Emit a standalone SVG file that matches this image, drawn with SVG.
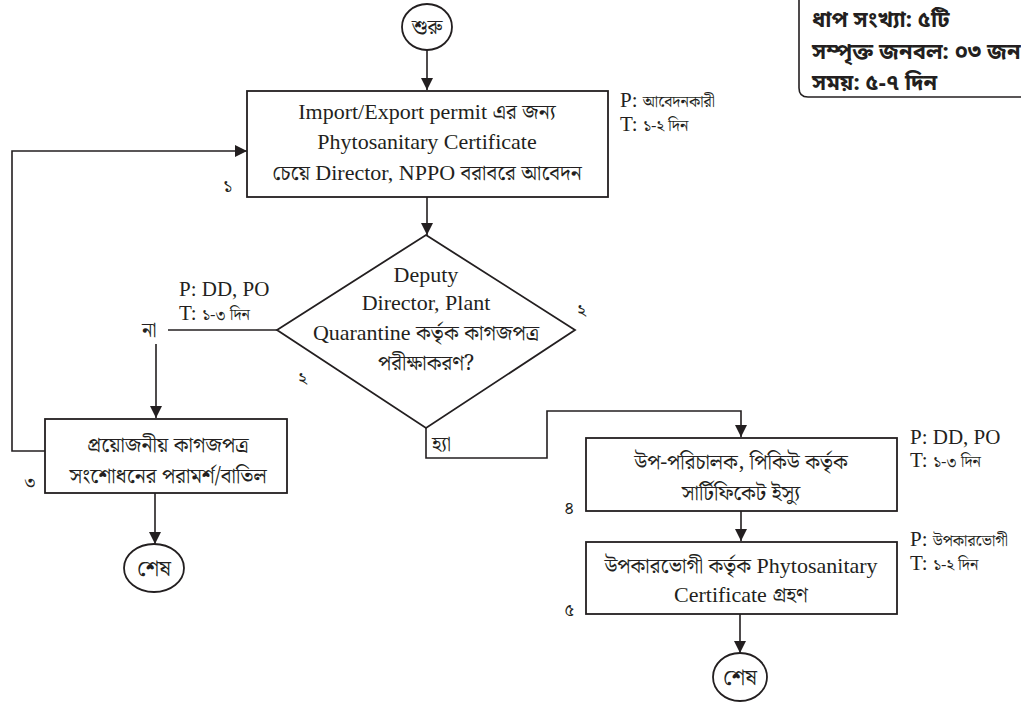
<svg xmlns="http://www.w3.org/2000/svg" width="1021" height="703" viewBox="0 0 1021 703">
<defs>
<marker id="arr" markerWidth="12" markerHeight="12" refX="12" refY="6" orient="auto" markerUnits="userSpaceOnUse">
<path d="M0,0 L12,6 L0,12 Z" fill="#231f20"/>
</marker>
<style>
.shape{fill:#fff;stroke:#231f20;stroke-width:1.8}
.line{fill:none;stroke:#231f20;stroke-width:1.6}
.t{font-family:"Liberation Serif","Times New Roman",serif;fill:#231f20}
.bn{font-family:"Noto Serif Bengali","Noto Sans Bengali","Lohit Bengali",serif}
.m{font-size:22px;text-anchor:middle}
.m .bn{font-size:21px}
.s{font-size:21px}
.s .bn{font-size:16px}
.n{font-size:18px}
.yn{font-size:20px}
.b{font-family:"Noto Sans Bengali","Lohit Bengali",sans-serif;font-weight:bold;font-size:22px;fill:#231f20}
</style>
</defs>
<rect width="1021" height="703" fill="#fff"/>

<g id="connectors">
<path class="line" d="M427,50 V90" marker-end="url(#arr)"/>
<path class="line" d="M427,197 V235" marker-end="url(#arr)"/>
<path class="line" d="M277,330 H168"/>
<path class="line" d="M156,344 V418" marker-end="url(#arr)"/>
<path class="line" d="M45,451 H12 V151 H247" marker-end="url(#arr)"/>
<path class="line" d="M155,493 V544" marker-end="url(#arr)"/>
<path class="line" d="M426,428 V458 H547 V411 H741 V437" marker-end="url(#arr)"/>
<path class="line" d="M741,511 V541" marker-end="url(#arr)"/>
<path class="line" d="M740,614 V653" marker-end="url(#arr)"/>
</g>

<g id="info">
<path class="line" d="M799,0 V88 Q799,97 808,97 H1021"/>
<text class="b" x="812" y="27">ধাপ সংখ্যা: ৫টি</text>
<text class="b" x="812" y="59">সম্পৃক্ত জনবল: ০৩ জন</text>
<text class="b" x="812" y="90">সময়: ৫-৭ দিন</text>
</g>

<g id="start">
<ellipse class="shape" cx="427" cy="27" rx="25" ry="23"/>
<text class="t bn" x="427" y="34" font-size="20" text-anchor="middle">শুরু</text>
</g>

<g id="step1">
<rect class="shape" x="247" y="91" width="361" height="106"/>
<text class="t m" x="427" y="119">Import/Export permit <tspan class="bn">এর জন্য</tspan></text>
<text class="t m" x="427" y="149">Phytosanitary Certificate</text>
<text class="t m" x="427" y="180"><tspan class="bn">চেয়ে</tspan> Director, NPPO <tspan class="bn">বরাবরে আবেদন</tspan></text>
<text class="t s" x="620" y="107">P: <tspan class="bn">আবেদনকারী</tspan></text>
<text class="t s" x="620" y="131">T: <tspan class="bn">১-২ দিন</tspan></text>
<text class="t bn n" x="223" y="192">১</text>
</g>

<g id="step2">
<polygon class="shape" points="426,235 575,330 426,428 277,330"/>
<text class="t m" x="426" y="282">Deputy</text>
<text class="t m" x="426" y="310">Director, Plant</text>
<text class="t m" x="426" y="340">Quarantine <tspan class="bn" font-size="20">কর্তৃক কাগজপত্র</tspan></text>
<text class="t m" x="426" y="370"><tspan class="bn" font-size="20">পরীক্ষাকরণ?</tspan></text>
<text class="t s" x="179" y="296">P: DD, PO</text>
<text class="t s" x="179" y="320">T: <tspan class="bn">১-৩ দিন</tspan></text>
<text class="t bn n" x="577" y="316">২</text>
<text class="t bn n" x="298" y="384">২</text>
<text class="t bn yn" x="142" y="337">না</text>
<text class="t bn yn" x="432" y="451">হ্যা</text>
</g>

<g id="step3">
<rect class="shape" x="45" y="419" width="242" height="74"/>
<text class="t m" x="168" y="452"><tspan class="bn">প্রয়োজনীয় কাগজপত্র</tspan></text>
<text class="t m" x="168" y="483"><tspan class="bn">সংশোধনের পরামর্শ/বাতিল</tspan></text>
<text class="t bn n" x="24" y="488">৩</text>
</g>

<g id="end1">
<ellipse class="shape" cx="154" cy="568" rx="30" ry="24"/>
<text class="t bn" x="154" y="576" font-size="22" text-anchor="middle">শেষ</text>
</g>

<g id="step4">
<rect class="shape" x="586" y="438" width="311" height="73"/>
<text class="t m" x="741" y="469"><tspan class="bn" font-size="22">উপ-পরিচালক, পিকিউ কর্তৃক</tspan></text>
<text class="t m" x="741" y="500"><tspan class="bn" font-size="22">সার্টিফিকেট ইস্যু</tspan></text>
<text class="t s" x="910" y="444">P: DD, PO</text>
<text class="t s" x="910" y="467">T: <tspan class="bn">১-৩ দিন</tspan></text>
<text class="t bn n" x="564" y="514">৪</text>
</g>

<g id="step5">
<rect class="shape" x="586" y="542" width="311" height="72"/>
<text class="t m" x="741" y="573"><tspan class="bn">উপকারভোগী কর্তৃক</tspan> Phytosanitary</text>
<text class="t m" x="741" y="602">Certificate  <tspan class="bn">গ্রহণ</tspan></text>
<text class="t s" x="910" y="546">P: <tspan class="bn">উপকারভোগী</tspan></text>
<text class="t s" x="910" y="570">T: <tspan class="bn">১-২ দিন</tspan></text>
<text class="t bn n" x="564" y="616">৫</text>
</g>

<g id="end2">
<ellipse class="shape" cx="740" cy="677" rx="27" ry="24"/>
<text class="t bn" x="740" y="685" font-size="22" text-anchor="middle">শেষ</text>
</g>
</svg>
